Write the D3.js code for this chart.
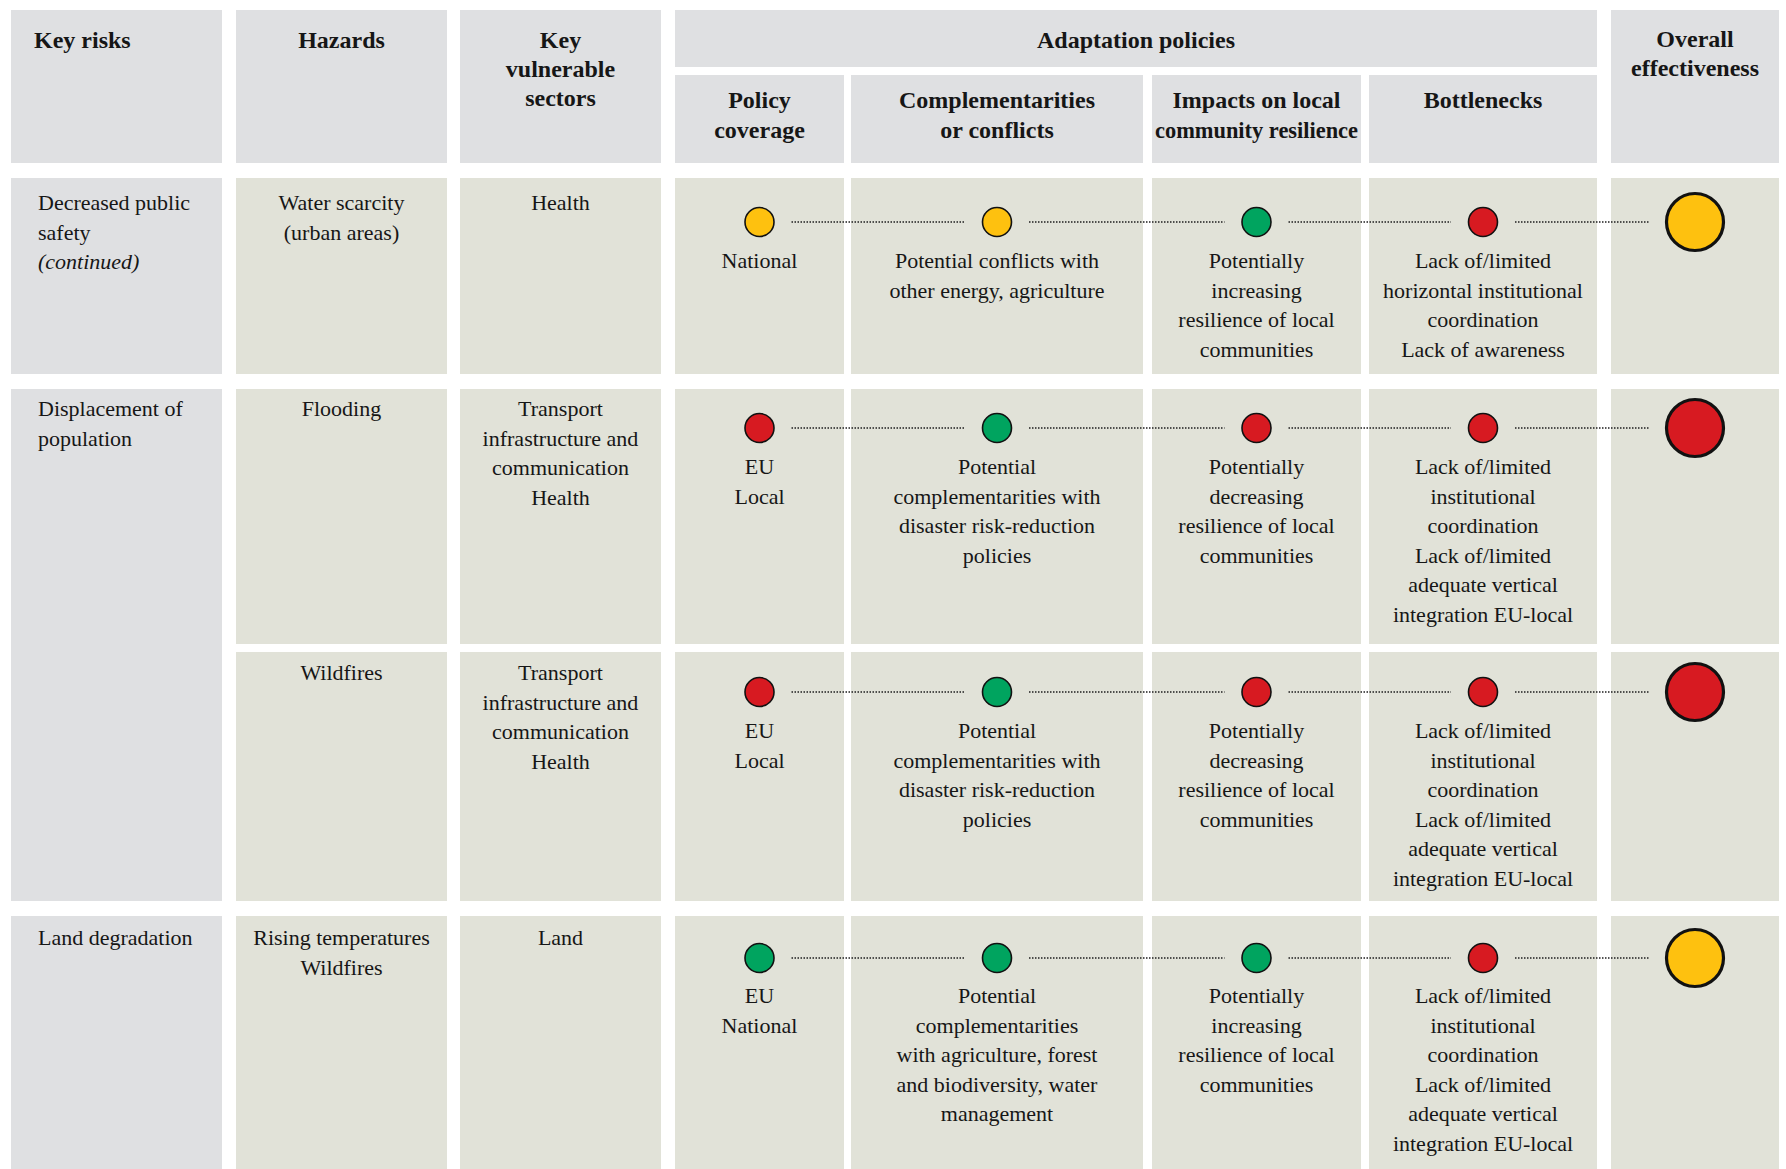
<!DOCTYPE html>
<html>
<head>
<meta charset="utf-8">
<script src="https://cdn.jsdelivr.net/npm/d3@7/dist/d3.min.js"></script>
<style>
  html, body { margin: 0; padding: 0; background: #ffffff; }
  svg { display: block; }
</style>
</head>
<body>
<svg id="chart" width="1786" height="1169"></svg>
<script>
// ---------------- DATA ----------------
const headers = [
  ["Key risks"],
  ["Hazards"],
  ["Key", "vulnerable", "sectors"],
  ["Policy", "coverage"],
  ["Complementarities", "or conflicts"],
  ["Impacts on local", "community resilience"],
  ["Bottlenecks"],
  ["Overall", "effectiveness"]
];
const groupHeader = "Adaptation policies";

const keyRisks = [
  { label: ["Decreased public", "safety"], note: "(continued)", rows: [0] },
  { label: ["Displacement of", "population"], note: null, rows: [1, 2] },
  { label: ["Land degradation"], note: null, rows: [3] }
];
const hazards = [
  ["Water scarcity", "(urban areas)"],
  ["Flooding"],
  ["Wildfires"],
  ["Rising temperatures", "Wildfires"]
];
const sectors = [
  ["Health"],
  ["Transport", "infrastructure and", "communication", "Health"],
  ["Transport", "infrastructure and", "communication", "Health"],
  ["Land"]
];
const coverageText = [
  ["National"],
  ["EU", "Local"],
  ["EU", "Local"],
  ["EU", "National"]
];
const coverageRating = ["medium", "low", "low", "high"];
const complementText = [
  ["Potential conflicts with", "other energy, agriculture"],
  ["Potential", "complementarities with", "disaster risk-reduction", "policies"],
  ["Potential", "complementarities with", "disaster risk-reduction", "policies"],
  ["Potential", "complementarities", "with agriculture, forest", "and biodiversity, water", "management"]
];
const complementRating = ["medium", "high", "high", "high"];
const impactText = [
  ["Potentially", "increasing", "resilience of local", "communities"],
  ["Potentially", "decreasing", "resilience of local", "communities"],
  ["Potentially", "decreasing", "resilience of local", "communities"],
  ["Potentially", "increasing", "resilience of local", "communities"]
];
const impactRating = ["high", "low", "low", "high"];
const bottleneckText = [
  ["Lack of/limited", "horizontal institutional", "coordination", "Lack of awareness"],
  ["Lack of/limited", "institutional", "coordination", "Lack of/limited", "adequate vertical", "integration EU-local"],
  ["Lack of/limited", "institutional", "coordination", "Lack of/limited", "adequate vertical", "integration EU-local"],
  ["Lack of/limited", "institutional", "coordination", "Lack of/limited", "adequate vertical", "integration EU-local"]
];
const bottleneckRating = ["low", "low", "low", "low"];
const overallRating = ["medium", "low", "low", "medium"];

const ratingLevels = ["high", "medium", "low"];
const ratingColors = ["#00a45f", "#fec10f", "#d71a21"];

// ---------------- LAYOUT ----------------
const colEdges = [[11, 222], [236, 447], [460, 661], [675, 844], [851, 1143], [1152, 1361], [1369, 1597], [1611, 1779]];
const rowEdges = [[178, 374], [389, 644], [652, 901], [916, 1180]];
const textNudge = [-1, -6, -5, -4];
const circleNudge = [0, -5, -4, -2];
const headTop = 10, headBottom = 163, groupBottom = 67, subTop = 75;
const GRAY = "#dfe0e2", BEIGE = "#e1e2d8", INK = "#161616";
const FONT = "'Liberation Serif', 'Times New Roman', serif";
const LH = 29.5;

const color = d3.scaleOrdinal(ratingLevels, ratingColors);
const xCenter = i => (colEdges[i][0] + colEdges[i][1]) / 2;

const svg = d3.select("#chart");

function textBlock(g, lines, x, yBase, opts = {}) {
  const t = g.append("text")
    .attr("font-family", FONT)
    .attr("font-size", opts.size || 22)
    .attr("font-weight", opts.bold ? "bold" : "normal")
    .attr("font-style", opts.italic ? "italic" : "normal")
    .attr("fill", INK)
    .attr("text-anchor", opts.anchor || "middle");
  lines.forEach((l, i) => {
    const ts = t.append("tspan").attr("x", x).attr("y", yBase + i * (opts.lh || LH)).text(l);
    if (opts.maxW) {
      const w = ts.node().getComputedTextLength();
      if (w > opts.maxW) ts.attr("textLength", opts.maxW).attr("lengthAdjust", "spacingAndGlyphs");
    }
  });
  return t;
}

// ---------------- HEADER ----------------
const head = svg.append("g");
[0, 1, 2, 7].forEach(i => {
  head.append("rect").attr("x", colEdges[i][0]).attr("y", headTop)
    .attr("width", colEdges[i][1] - colEdges[i][0]).attr("height", headBottom - headTop).attr("fill", GRAY);
});
head.append("rect").attr("x", colEdges[3][0]).attr("y", headTop)
  .attr("width", colEdges[6][1] - colEdges[3][0]).attr("height", groupBottom - headTop).attr("fill", GRAY);
[3, 4, 5, 6].forEach(i => {
  head.append("rect").attr("x", colEdges[i][0]).attr("y", subTop)
    .attr("width", colEdges[i][1] - colEdges[i][0]).attr("height", headBottom - subTop).attr("fill", GRAY);
});
textBlock(head, headers[0], colEdges[0][0] + 23, 48, { bold: true, size: 24, anchor: "start", lh: 29 });
[1, 2].forEach(i => textBlock(head, headers[i], xCenter(i), 48, { bold: true, size: 24, lh: 29 }));
textBlock(head, headers[7], xCenter(7), 47, { bold: true, size: 24, lh: 28.5, maxW: colEdges[7][1] - colEdges[7][0] - 10 });
textBlock(head, [groupHeader], (colEdges[3][0] + colEdges[6][1]) / 2, 48, { bold: true, size: 24 });
[3, 4, 5, 6].forEach(i => textBlock(head, headers[i], xCenter(i), 108, { bold: true, size: 24, lh: 29.5, maxW: colEdges[i][1] - colEdges[i][0] - 6 }));

// ---------------- BODY ----------------
const body = svg.append("g");

// key risk column (grey, merged rows)
keyRisks.forEach(k => {
  const r0 = k.rows[0];
  const top = rowEdges[r0][0];
  const bot = rowEdges[k.rows[k.rows.length - 1]][1];
  body.append("rect").attr("x", colEdges[0][0]).attr("y", top)
    .attr("width", colEdges[0][1] - colEdges[0][0]).attr("height", bot - top).attr("fill", GRAY);
  const y0 = top + 33 + textNudge[r0];
  textBlock(body, k.label, colEdges[0][0] + 27, y0, { anchor: "start" });
  if (k.note) textBlock(body, [k.note], colEdges[0][0] + 27, y0 + k.label.length * LH, { anchor: "start", italic: true });
});

const textCols = [null, hazards, sectors];
const circleCols = [
  { col: 3, text: coverageText, rating: coverageRating },
  { col: 4, text: complementText, rating: complementRating },
  { col: 5, text: impactText, rating: impactRating },
  { col: 6, text: bottleneckText, rating: bottleneckRating }
];

rowEdges.forEach((re, r) => {
  const [top, bot] = re;
  for (let c = 1; c < 8; c++) {
    body.append("rect").attr("x", colEdges[c][0]).attr("y", top)
      .attr("width", colEdges[c][1] - colEdges[c][0]).attr("height", bot - top).attr("fill", BEIGE);
  }
  [1, 2].forEach(c => textBlock(body, textCols[c][r], xCenter(c), top + 33 + textNudge[r]));

  const cy = top + 44 + circleNudge[r];
  const ty = top + 44 + 47 + textNudge[r];
  // dotted connectors
  const centers = circleCols.map(cc => xCenter(cc.col)).concat([xCenter(7)]);
  for (let i = 0; i < centers.length - 1; i++) {
    const endGap = (i === centers.length - 2) ? 45 : 32;
    body.append("line")
      .attr("x1", centers[i] + 32).attr("x2", centers[i + 1] - endGap)
      .attr("y1", cy).attr("y2", cy)
      .attr("stroke", "#1e1e1e").attr("stroke-width", 1.7)
      .attr("stroke-dasharray", "1.5 1.5");
  }
  circleCols.forEach(cc => {
    body.append("circle").attr("cx", xCenter(cc.col)).attr("cy", cy).attr("r", 14.5)
      .attr("fill", color(cc.rating[r])).attr("stroke", "#111").attr("stroke-width", 1.6);
    textBlock(body, cc.text[r], xCenter(cc.col), ty);
  });
  body.append("circle").attr("cx", xCenter(7)).attr("cy", cy).attr("r", 28.5)
    .attr("fill", color(overallRating[r])).attr("stroke", "#111").attr("stroke-width", 3.2);
});
</script>
</body>
</html>
